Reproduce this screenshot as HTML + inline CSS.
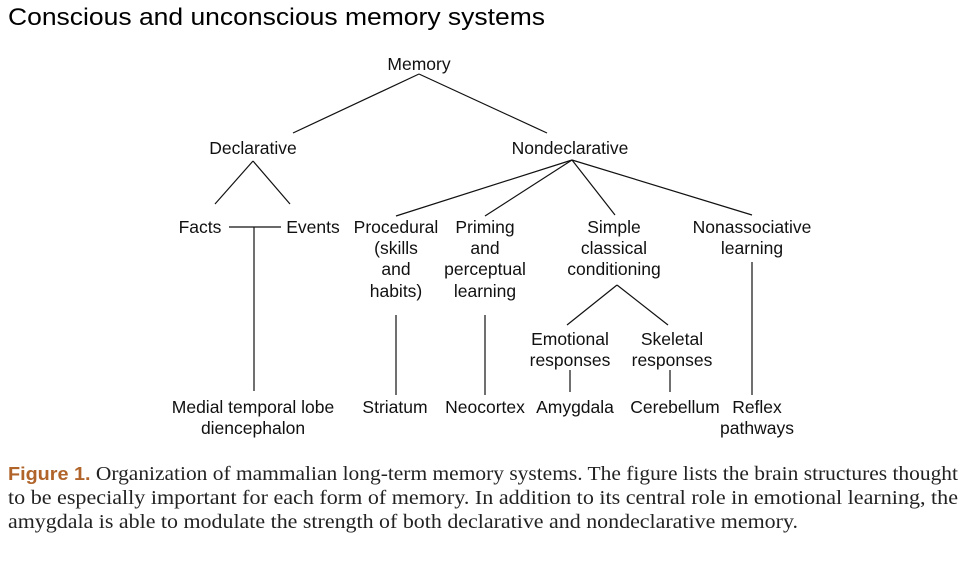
<!DOCTYPE html>
<html><head><meta charset="utf-8"><style>
html,body{margin:0;padding:0;background:#fff;}
svg{display:block;}
.d{font-family:"Liberation Sans",Arial,sans-serif;font-size:17.5px;fill:#111;text-anchor:middle;}
.c{font-family:"Liberation Serif",serif;font-size:19.5px;fill:#222;}
</style></head><body>
<svg width="978" height="578" viewBox="0 0 978 578" xmlns="http://www.w3.org/2000/svg">
<text x="8" y="25" font-family="Liberation Sans,sans-serif" font-size="24" fill="#000" textLength="537" lengthAdjust="spacingAndGlyphs">Conscious and unconscious memory systems</text>
<g stroke="#111" stroke-width="1.2" fill="none">
<line x1="419" y1="74" x2="293" y2="133"/>
<line x1="419" y1="74" x2="547" y2="133"/>
<line x1="253" y1="161" x2="215" y2="204"/>
<line x1="253" y1="161" x2="290" y2="204"/>
<line x1="229" y1="227" x2="281" y2="227"/>
<line x1="254" y1="227" x2="254" y2="391"/>
<line x1="572" y1="160" x2="396" y2="216"/>
<line x1="572" y1="160" x2="485" y2="216"/>
<line x1="572" y1="160" x2="615" y2="215"/>
<line x1="572" y1="160" x2="752" y2="215"/>
<line x1="396" y1="315" x2="396" y2="395"/>
<line x1="485" y1="315" x2="485" y2="395"/>
<line x1="752" y1="262" x2="752" y2="395"/>
<line x1="617" y1="285" x2="567" y2="325"/>
<line x1="617" y1="285" x2="668" y2="325"/>
<line x1="570" y1="370" x2="570" y2="392"/>
<line x1="670" y1="370" x2="670" y2="392"/>
</g>
<g class="d">
<text x="419" y="70">Memory</text>
<text x="253" y="154">Declarative</text>
<text x="570" y="154">Nondeclarative</text>
<text x="200" y="233">Facts</text>
<text x="313" y="233">Events</text>
<text x="396" y="233">Procedural</text>
<text x="396" y="254">(skills</text>
<text x="396" y="275">and</text>
<text x="396" y="297">habits)</text>
<text x="485" y="233">Priming</text>
<text x="485" y="254">and</text>
<text x="485" y="275">perceptual</text>
<text x="485" y="297">learning</text>
<text x="614" y="233">Simple</text>
<text x="614" y="254">classical</text>
<text x="614" y="275">conditioning</text>
<text x="752" y="233">Nonassociative</text>
<text x="752" y="254">learning</text>
<text x="570" y="345">Emotional</text>
<text x="570" y="366">responses</text>
<text x="672" y="345">Skeletal</text>
<text x="672" y="366">responses</text>
<text x="253" y="413">Medial temporal lobe</text>
<text x="253" y="434">diencephalon</text>
<text x="395" y="413">Striatum</text>
<text x="485" y="413">Neocortex</text>
<text x="575" y="413">Amygdala</text>
<text x="675" y="413">Cerebellum</text>
<text x="757" y="413">Reflex</text>
<text x="757" y="434">pathways</text>
</g>
<text class="c" x="8" y="480" textLength="950" lengthAdjust="spacingAndGlyphs"><tspan fill="#b0642a" font-family="Liberation Sans,sans-serif" font-weight="bold" font-size="18">Figure 1.</tspan> Organization of mammalian long-term memory systems. The figure lists the brain structures thought</text>
<text class="c" x="8" y="504" textLength="950" lengthAdjust="spacingAndGlyphs">to be especially important for each form of memory. In addition to its central role in emotional learning, the</text>
<text class="c" x="8" y="528" textLength="790" lengthAdjust="spacingAndGlyphs">amygdala is able to modulate the strength of both declarative and nondeclarative memory.</text>
</svg>
</body></html>
